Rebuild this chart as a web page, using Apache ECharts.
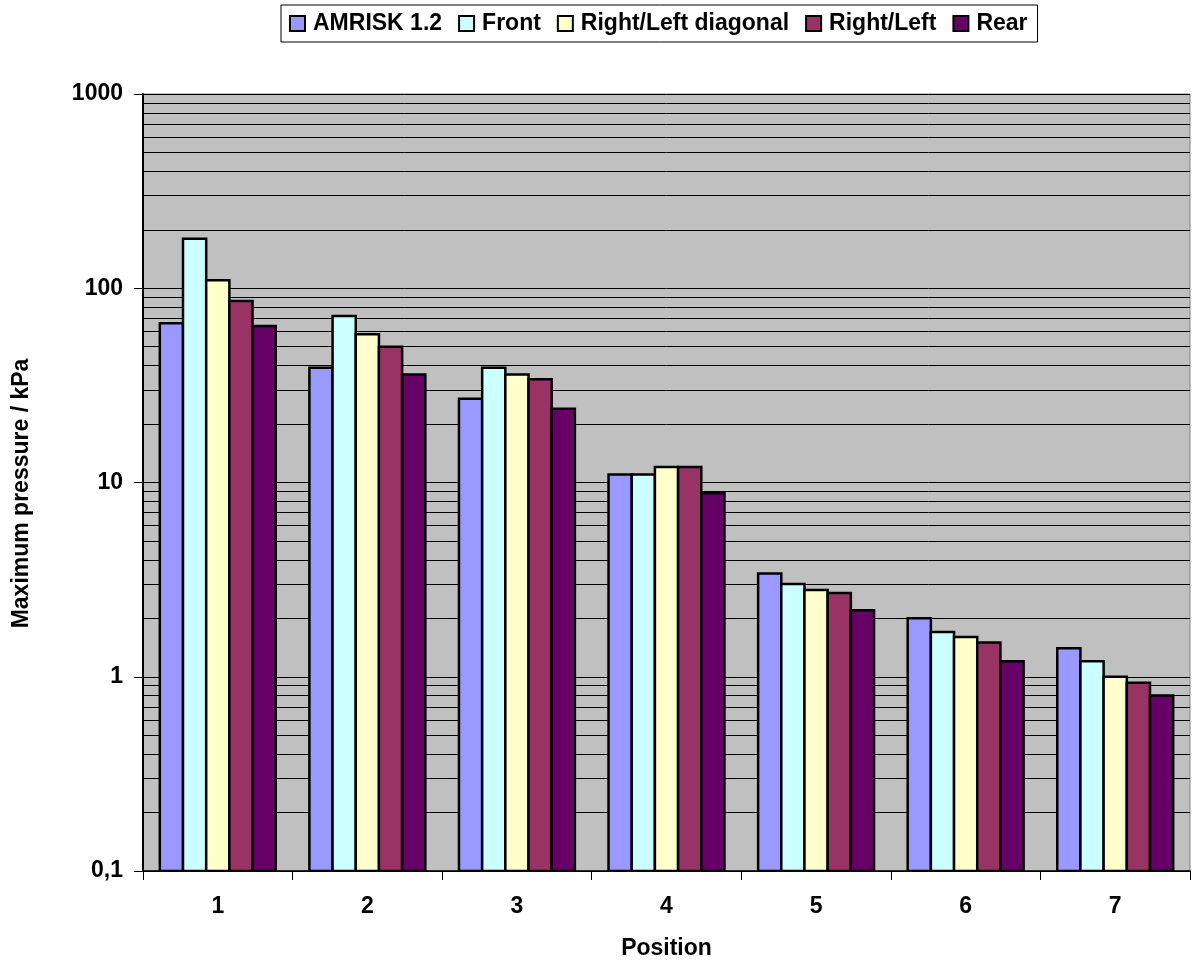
<!DOCTYPE html>
<html>
<head>
<meta charset="utf-8">
<title>Maximum pressure by position</title>
<script src="https://cdn.jsdelivr.net/npm/echarts@6/dist/echarts.min.js"></script>
<style>
  html, body { margin: 0; padding: 0; background: #ffffff; }
  #chart { width: 1192px; height: 965px; }
</style>
</head>
<body>
<div id="chart"></div>
<script>
// Positions along the x axis
const positions = ['1', '2', '3', '4', '5', '6', '7'];

// Maximum pressure (kPa) per position, one array per case
const amrisk = [66, 39, 27, 11, 3.4, 2.0, 1.4];
const front = [180, 72, 39, 11, 3.0, 1.7, 1.2];
const diagonal = [110, 58, 36, 12, 2.8, 1.6, 1.0];
const rightLeft = [86, 50, 34, 12, 2.7, 1.5, 0.93];
const rear = [64, 36, 24, 8.8, 2.2, 1.2, 0.8];

const seriesNames = ['AMRISK 1.2', 'Front', 'Right/Left diagonal', 'Right/Left', 'Rear'];
const seriesValues = [amrisk, front, diagonal, rightLeft, rear];
const seriesColors = ['#9999ff', '#ccffff', '#ffffcc', '#993366', '#660066'];

// Logarithmic value axis range
const yMin = 0.1;
const yMax = 1000;

// Minor grid lines at 2..9 within each decade
const decades = [0.1, 1, 10, 100];
const minorSteps = [2, 3, 4, 5, 6, 7, 8, 9];
const minorGrid = [];
decades.forEach(d => minorSteps.forEach(m => minorGrid.push(+(d * m).toPrecision(3))));

const FONT = "'Liberation Sans', Arial, sans-serif";
const CATEGORY_GAP = 0.225;   // empty share of each category band
const BAR_COUNT = seriesNames.length;

function barRenderer(seriesIndex) {
  return function (params, api) {
    const cat = api.value(0);
    const val = api.value(1);
    const top = api.coord([cat, val]);
    const base = api.coord([cat, yMin]);
    const band = api.size([1, 0])[0];
    const groupW = band * (1 - CATEGORY_GAP);
    const barW = groupW / BAR_COUNT;
    const x = top[0] - groupW / 2 + seriesIndex * barW;
    return {
      type: 'rect',
      shape: { x: x, y: top[1], width: barW, height: base[1] - top[1] },
      style: { fill: api.visual('color'), stroke: '#000000', lineWidth: 2.5 }
    };
  };
}

const barSeries = seriesNames.map((name, i) => ({
  name: name,
  type: 'custom',
  z: 3,
  renderItem: barRenderer(i),
  itemStyle: { color: seriesColors[i], borderColor: '#000000', borderWidth: 2 },
  encode: { x: 0, y: 1 },
  data: seriesValues[i].map((v, k) => [k, v]),
  clip: true
}));

// Empty helper series carrying the minor grid lines behind the bars
const gridSeries = {
  type: 'line',
  z: 1,
  data: [],
  silent: true,
  markLine: {
    silent: true,
    z: 1,
    symbol: ['none', 'none'],
    label: { show: false },
    lineStyle: { color: '#000000', width: 1, type: 'solid' },
    emphasis: { disabled: true },
    animation: false,
    data: minorGrid.map(v => ({ yAxis: v }))
  }
};

const chart = echarts.init(document.getElementById('chart'), null, { renderer: 'canvas' });

chart.setOption({
  animation: false,
  backgroundColor: '#ffffff',
  textStyle: { fontFamily: FONT },
  legend: {
    data: seriesNames,
    left: 281,
    top: 5,
    padding: [7, 10, 7, 8],
    itemGap: 16,
    itemWidth: 15,
    itemHeight: 15,
    icon: 'rect',
    borderColor: '#000000',
    borderWidth: 1,
    backgroundColor: '#ffffff',
    itemStyle: { borderColor: '#000000', borderWidth: 2 },
    textStyle: {
      fontFamily: FONT, fontWeight: 'bold', fontSize: 23, color: '#000000',
      padding: [0, 0, 0, 3]
    },
    selectedMode: false
  },
  grid: {
    left: 143,
    right: 2,
    top: 94,
    bottom: 92,
    show: true,
    backgroundColor: '#c0c0c0',
    borderColor: '#808080',
    borderWidth: 1
  },
  xAxis: {
    type: 'category',
    data: positions,
    boundaryGap: true,
    name: 'Position',
    nameLocation: 'middle',
    nameGap: 66,
    nameTextStyle: { fontFamily: FONT, fontWeight: 'bold', fontSize: 23, color: '#000000' },
    axisLine: { show: true, lineStyle: { color: '#000000', width: 1.5 } },
    axisTick: { show: true, alignWithLabel: false, length: 9, lineStyle: { color: '#000000', width: 1 } },
    axisLabel: { margin: 24, fontFamily: FONT, fontWeight: 'bold', fontSize: 23, color: '#000000' },
    splitLine: { show: false }
  },
  yAxis: {
    type: 'log',
    logBase: 10,
    min: yMin,
    max: yMax,
    splitNumber: 4,
    name: 'Maximum pressure / kPa',
    nameLocation: 'middle',
    nameRotate: 90,
    nameGap: 110,
    nameTextStyle: {
      fontFamily: FONT, fontWeight: 'bold', fontSize: 23, color: '#000000',
      padding: [0, 22, 0, 0]
    },
    axisLine: { show: true, lineStyle: { color: '#000000', width: 2 } },
    axisTick: { show: true, length: 9, lineStyle: { color: '#000000', width: 1 } },
    axisLabel: {
      margin: 20,
      fontFamily: FONT, fontWeight: 'bold', fontSize: 23, color: '#000000',
      formatter: v => String(v).replace('.', ',')
    },
    splitLine: { show: true, lineStyle: { color: '#000000', width: 1 } },
    minorTick: { show: false },
    minorSplitLine: { show: false }
  },
  series: [gridSeries].concat(barSeries)
});
</script>
</body>
</html>
